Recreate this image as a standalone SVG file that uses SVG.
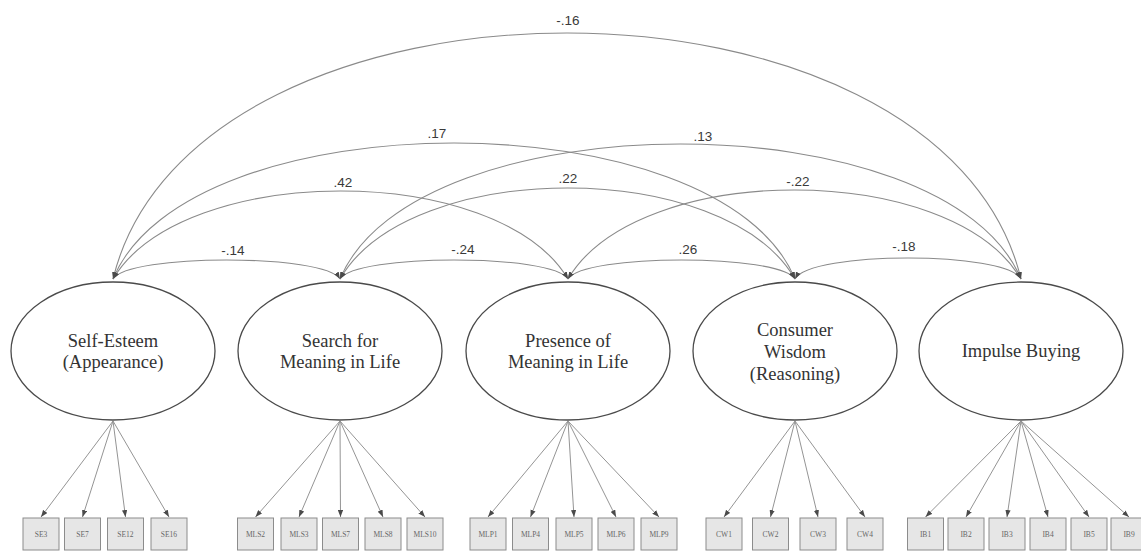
<svg xmlns="http://www.w3.org/2000/svg" width="1141" height="552" viewBox="0 0 1141 552">
  <style>
    .latent ellipse { fill: #ffffff; stroke: #4a4a4a; stroke-width: 1.3; }
    .latent text { font-family: "Liberation Serif", "Times New Roman", serif; font-size: 18.5px; fill: #333333; text-anchor: middle; }
    .ind rect { fill: #e6e6e6; stroke: #8c8c8c; stroke-width: 1; }
    .ind text { font-family: "Liberation Serif", "Times New Roman", serif; font-size: 7.5px; fill: #666666; text-anchor: middle; }
    .cov { fill: none; stroke: #8a8a8a; stroke-width: 1.1; marker-start: url(#ah); marker-end: url(#ah); }
    .load { fill: none; stroke: #949494; stroke-width: 1; marker-end: url(#ah); }
    .lbl { font-family: "Liberation Sans", Arial, sans-serif; font-size: 13.5px; fill: #3a3a3a; text-anchor: middle; }
  </style>
  <defs>
    <marker id="ah" viewBox="0 0 8 6" refX="8" refY="3" markerWidth="7" markerHeight="5.5" markerUnits="userSpaceOnUse" orient="auto-start-reverse">
      <path d="M0,0 L8,3 L0,6 z" fill="#4a4a4a"/>
    </marker>
  </defs>
  <rect width="1141" height="552" fill="#ffffff"/>

  <!-- correlations between latent factors -->
  <g id="connectors">
    <path class="cov" d="M113,279 C128,253.7 325,253.7 340,279"/>
    <path class="cov" d="M340,279 C355,253.7 553,253.7 568,279"/>
    <path class="cov" d="M568,279 C583,253.7 780,253.7 795,279"/>
    <path class="cov" d="M795,279 C810,251 1006,251 1021,279"/>
    <path class="cov" d="M113,279 C183,161.7 498,161.7 568,279"/>
    <path class="cov" d="M340,279 C410,157.7 725,157.7 795,279"/>
    <path class="cov" d="M568,279 C638,160.3 951,160.3 1021,279"/>
    <path class="cov" d="M113,279 C188,97.7 720,97.7 795,279"/>
    <path class="cov" d="M340,279 C415,99 946,99 1021,279"/>
    <path class="cov" d="M113,279 C193,-49 941,-49 1021,279"/>

    <!-- factor loadings -->
    <path class="load" d="M113,421 L41,517"/>
    <path class="load" d="M113,421 L82.5,517"/>
    <path class="load" d="M113,421 L125.5,517"/>
    <path class="load" d="M113,421 L169,517"/>

    <path class="load" d="M340,421 L255.5,517"/>
    <path class="load" d="M340,421 L299,517"/>
    <path class="load" d="M340,421 L340.5,517"/>
    <path class="load" d="M340,421 L383,517"/>
    <path class="load" d="M340,421 L425,517"/>

    <path class="load" d="M568,421 L488,517"/>
    <path class="load" d="M568,421 L530.5,517"/>
    <path class="load" d="M568,421 L574,517"/>
    <path class="load" d="M568,421 L616,517"/>
    <path class="load" d="M568,421 L659,517"/>

    <path class="load" d="M795,421 L724,517"/>
    <path class="load" d="M795,421 L770.5,517"/>
    <path class="load" d="M795,421 L818,517"/>
    <path class="load" d="M795,421 L865,517"/>

    <path class="load" d="M1021,421 L925.5,517"/>
    <path class="load" d="M1021,421 L966,517"/>
    <path class="load" d="M1021,421 L1007,517"/>
    <path class="load" d="M1021,421 L1048,517"/>
    <path class="load" d="M1021,421 L1089,517"/>
    <path class="load" d="M1021,421 L1129,517"/>
  </g>

  <!-- correlation coefficients -->
  <g id="coefficients">
    <text class="lbl" x="568" y="25">-.16</text>
    <text class="lbl" x="437" y="138">.17</text>
    <text class="lbl" x="703" y="141">.13</text>
    <text class="lbl" x="343" y="187">.42</text>
    <text class="lbl" x="568" y="183">.22</text>
    <text class="lbl" x="798" y="186">-.22</text>
    <text class="lbl" x="233" y="255">-.14</text>
    <text class="lbl" x="463" y="254">-.24</text>
    <text class="lbl" x="688" y="254">.26</text>
    <text class="lbl" x="904" y="251">-.18</text>
  </g>

  <!-- latent factors -->
  <g id="self-esteem" class="latent">
    <ellipse cx="113" cy="351" rx="102" ry="69"/>
    <text x="113" y="347">Self-Esteem</text>
    <text x="113" y="368">(Appearance)</text>
  </g>
  <g id="search-meaning" class="latent">
    <ellipse cx="340" cy="351" rx="102" ry="69"/>
    <text x="340" y="347">Search for</text>
    <text x="340" y="368">Meaning in Life</text>
  </g>
  <g id="presence-meaning" class="latent">
    <ellipse cx="568" cy="351" rx="102" ry="69"/>
    <text x="568" y="347">Presence of</text>
    <text x="568" y="368">Meaning in Life</text>
  </g>
  <g id="consumer-wisdom" class="latent">
    <ellipse cx="795" cy="351" rx="102" ry="69"/>
    <text x="795" y="336">Consumer</text>
    <text x="795" y="358">Wisdom</text>
    <text x="795" y="380">(Reasoning)</text>
  </g>
  <g id="impulse-buying" class="latent">
    <ellipse cx="1021" cy="351" rx="102" ry="69"/>
    <text x="1021" y="357">Impulse Buying</text>
  </g>

  <!-- observed indicators -->
  <g id="SE3" class="ind"><rect x="23" y="518" width="36" height="32"/><text x="41" y="537">SE3</text></g>
  <g id="SE7" class="ind"><rect x="64.5" y="518" width="36" height="32"/><text x="82.5" y="537">SE7</text></g>
  <g id="SE12" class="ind"><rect x="107.5" y="518" width="36" height="32"/><text x="125.5" y="537">SE12</text></g>
  <g id="SE16" class="ind"><rect x="151" y="518" width="36" height="32"/><text x="169" y="537">SE16</text></g>

  <g id="MLS2" class="ind"><rect x="237.5" y="518" width="36" height="32"/><text x="255.5" y="537">MLS2</text></g>
  <g id="MLS3" class="ind"><rect x="281" y="518" width="36" height="32"/><text x="299" y="537">MLS3</text></g>
  <g id="MLS7" class="ind"><rect x="322.5" y="518" width="36" height="32"/><text x="340.5" y="537">MLS7</text></g>
  <g id="MLS8" class="ind"><rect x="365" y="518" width="36" height="32"/><text x="383" y="537">MLS8</text></g>
  <g id="MLS10" class="ind"><rect x="407" y="518" width="36" height="32"/><text x="425" y="537">MLS10</text></g>

  <g id="MLP1" class="ind"><rect x="470" y="518" width="36" height="32"/><text x="488" y="537">MLP1</text></g>
  <g id="MLP4" class="ind"><rect x="512.5" y="518" width="36" height="32"/><text x="530.5" y="537">MLP4</text></g>
  <g id="MLP5" class="ind"><rect x="556" y="518" width="36" height="32"/><text x="574" y="537">MLP5</text></g>
  <g id="MLP6" class="ind"><rect x="598" y="518" width="36" height="32"/><text x="616" y="537">MLP6</text></g>
  <g id="MLP9" class="ind"><rect x="641" y="518" width="36" height="32"/><text x="659" y="537">MLP9</text></g>

  <g id="CW1" class="ind"><rect x="706" y="518" width="36" height="32"/><text x="724" y="537">CW1</text></g>
  <g id="CW2" class="ind"><rect x="752.5" y="518" width="36" height="32"/><text x="770.5" y="537">CW2</text></g>
  <g id="CW3" class="ind"><rect x="800" y="518" width="36" height="32"/><text x="818" y="537">CW3</text></g>
  <g id="CW4" class="ind"><rect x="847" y="518" width="36" height="32"/><text x="865" y="537">CW4</text></g>

  <g id="IB1" class="ind"><rect x="907.5" y="518" width="36" height="32"/><text x="925.5" y="537">IB1</text></g>
  <g id="IB2" class="ind"><rect x="948" y="518" width="36" height="32"/><text x="966" y="537">IB2</text></g>
  <g id="IB3" class="ind"><rect x="989" y="518" width="36" height="32"/><text x="1007" y="537">IB3</text></g>
  <g id="IB4" class="ind"><rect x="1030" y="518" width="36" height="32"/><text x="1048" y="537">IB4</text></g>
  <g id="IB5" class="ind"><rect x="1071" y="518" width="36" height="32"/><text x="1089" y="537">IB5</text></g>
  <g id="IB9" class="ind"><rect x="1111" y="518" width="36" height="32"/><text x="1129" y="537">IB9</text></g>
</svg>
